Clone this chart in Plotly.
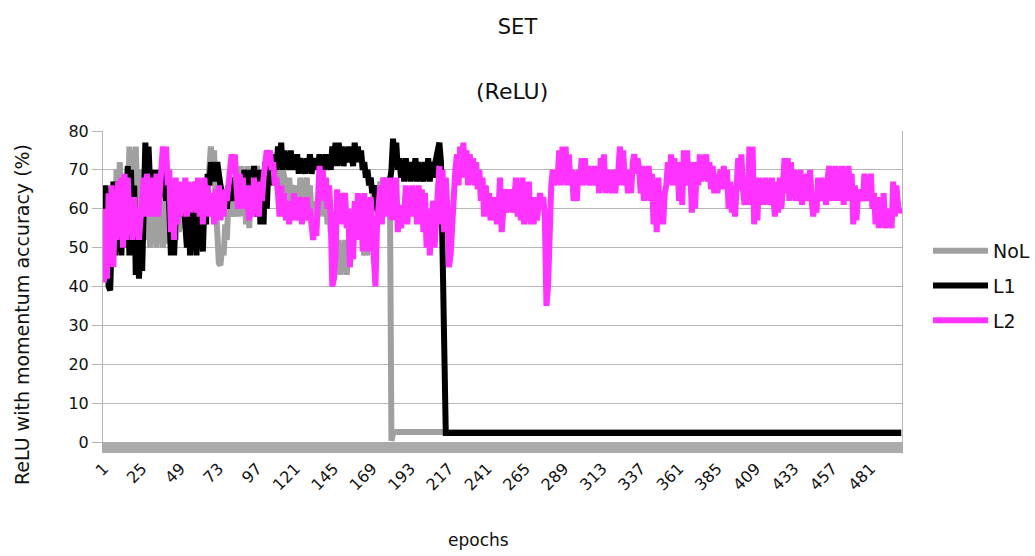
import plotly.graph_objects as go

# ---------------- data ----------------
tick_epochs = [1, 25, 49, 73, 97, 121, 145, 169, 193, 217, 241, 265, 289, 313,
               337, 361, 385, 409, 433, 457, 481]
tick_labels = [str(t) for t in tick_epochs]

# NoL: epochs 1..183 read per epoch, then flat tail
nol_noisy = [
    48, 60, 55, 52, 62, 50, 66, 55, 70, 58, 72, 60, 68, 55, 64, 56, 76, 60, 75, 58,
    76, 62, 70, 56, 66, 54, 62, 52, 60, 50, 62, 51, 64, 50, 60, 52, 63, 50, 62, 51,
    60, 52, 58, 50, 61, 52, 60, 54, 62, 55, 63, 58, 64, 56, 66, 60, 65, 58, 64, 60,
    63, 58, 62, 60, 64, 66, 70, 76, 72, 75, 62, 50, 46, 45.5, 50, 48, 56, 52, 62, 60,
    64, 58, 60, 62, 58, 66, 71, 58, 70, 56, 71, 55, 68, 58, 70, 62, 71, 64, 70, 66,
    68, 64, 70, 66, 72, 68, 70, 66, 72, 68, 70, 66, 70, 68, 66, 64, 68, 62, 66, 64,
    62, 66, 60, 68, 62, 67, 64, 68, 60, 66, 58, 62, 56, 60, 58, 64, 60, 66, 58, 62,
    56, 60, 54, 58, 50, 56, 46, 52, 43, 50, 44, 52, 43, 48, 45, 54, 50, 58, 52, 60,
    54, 58, 50, 48, 52, 48, 56, 60, 62, 64, 60, 66, 62, 67, 64, 68, 66, 68, 67, 68,
    0.3, 2.2, 2.6,
]
nol_tail_epochs = [500]
nol_tail_values = [2.6]

# L1: epochs 1..215 read per epoch, then flat tail
l1_noisy = [
    50, 66, 60, 40, 39, 55, 67, 48, 66, 49, 67, 48, 66, 50, 62, 71, 48, 70, 50, 66,
    43, 53, 42, 52, 44, 62, 77, 64, 76, 66, 70, 64, 70, 62, 70, 63, 69, 64, 70, 62,
    69, 60, 48, 56, 48, 58, 62, 60, 63, 58, 62, 56, 50, 60, 48, 62, 52, 60, 48, 62,
    50, 58, 49, 62, 56, 69, 66, 72, 68, 71, 67, 72, 68, 66, 64, 62, 65, 60, 66, 62,
    66, 64, 68, 62, 66, 64, 68, 65, 70, 66, 68, 64, 70, 66, 71, 64, 58, 70, 56, 66,
    56, 72, 60, 71, 66, 73, 68, 74, 70, 76, 72, 77, 70, 75, 71, 74, 70, 75, 70, 74,
    71, 74, 69, 73, 70, 72, 69, 73, 70, 74, 69, 72, 70, 73, 71, 74, 70, 73, 70, 74,
    71, 73, 70, 76, 72, 77, 71, 77, 72, 76, 71, 74, 72, 76, 73, 74, 71, 77, 72, 76,
    72, 75, 70, 72, 68, 70, 66, 68, 64, 66, 62, 60, 58, 62, 60, 64, 62, 66, 64, 68,
    70, 78, 72, 77, 70, 73, 68, 72, 67, 73, 68, 72, 67, 71, 68, 73, 67, 72, 68, 70,
    67, 72, 68, 73, 67, 72, 68, 71, 73, 76, 77, 72, 50, 22, 2.3,
]
l1_tail_epochs = [500]
l1_tail_values = [2.3]

# L2: epochs 1..500 read per epoch
l2_values = [
    41, 60, 42, 64, 50, 66, 45, 63, 52, 67, 55, 68, 50, 69, 52, 68, 57, 62, 52, 63,
    55, 60, 52, 58, 60, 68, 58, 69, 60, 68, 58, 67, 62, 69, 58, 67, 70, 76, 72, 76,
    66, 70, 54, 66, 52, 68, 56, 67, 58, 66, 60, 68, 58, 67, 59, 66, 60, 67, 59, 68,
    58, 67, 56, 68, 60, 66, 58, 62, 64, 56, 65, 58, 66, 57, 64, 58, 65, 62, 66, 72,
    74, 70, 74, 66, 60, 69, 62, 68, 60, 66, 62, 57, 66, 58, 68, 60, 64, 58, 67, 62,
    68, 72, 75, 73, 75, 70, 72, 66, 68, 64, 58, 66, 60, 64, 57, 62, 56, 60, 58, 64,
    57, 62, 58, 63, 56, 62, 57, 63, 58, 60, 54, 52, 56, 53, 62, 71, 64, 70, 62, 68,
    60, 66, 58, 40, 42, 48, 65, 57, 64, 56, 62, 64, 55, 60, 45, 58, 47, 62, 52, 64,
    54, 63, 49, 64, 52, 62, 49, 63, 55, 42, 40, 56, 60, 66, 56, 68, 58, 67, 60, 68,
    57, 66, 60, 68, 54, 61, 55, 60, 58, 66, 56, 65, 58, 66, 60, 64, 56, 66, 58, 65,
    54, 64, 50, 60, 48, 56, 62, 50, 60, 64, 71, 56, 70, 54, 68, 60, 45, 48, 58, 66,
    70, 74, 66, 76, 70, 77, 68, 75, 66, 74, 68, 73, 66, 72, 65, 70, 62, 68, 58, 66,
    60, 64, 57, 62, 58, 63, 56, 60, 68, 54, 62, 65, 59, 64, 60, 65, 59, 64, 68, 58,
    66, 57, 68, 56, 64, 58, 67, 56, 62, 56, 63, 57, 60, 64, 61, 63, 58, 35, 40, 64,
    66, 70, 66, 70, 68, 75, 66, 76, 68, 76, 66, 74, 67, 70, 62, 68, 62, 70, 66, 73,
    66, 73, 67, 71, 66, 70, 67, 71, 66, 70, 64, 73, 66, 74, 64, 70, 66, 69, 64, 70,
    64, 68, 70, 76, 66, 75, 68, 70, 64, 69, 64, 72, 74, 69, 73, 70, 64, 71, 62, 70,
    64, 71, 62, 69, 56, 64, 54, 68, 58, 62, 56, 64, 66, 72, 67, 74, 66, 73, 68, 72,
    62, 68, 61, 75, 68, 75, 66, 70, 59, 72, 60, 70, 66, 74, 67, 73, 68, 74, 67, 72,
    65, 71, 64, 69, 64, 68, 70, 65, 71, 65, 70, 60, 67, 59, 66, 58, 68, 73, 65, 74,
    65, 61, 66, 61, 76, 66, 76, 56, 65, 57, 68, 62, 67, 61, 68, 62, 66, 61, 68, 62,
    58, 67, 59, 68, 60, 66, 73, 64, 73, 62, 72, 63, 70, 62, 69, 62, 70, 61, 68, 62,
    69, 62, 70, 62, 58, 64, 59, 68, 62, 68, 62, 67, 61, 68, 71, 62, 70, 62, 71, 62,
    70, 62, 71, 61, 70, 62, 71, 63, 69, 56, 66, 57, 64, 62, 65, 62, 69, 62, 68, 62,
    69, 60, 64, 56, 63, 55, 62, 56, 64, 55, 60, 56, 59, 55, 67, 58, 66, 61, 59, 60,
]

nol_x = list(range(1, len(nol_noisy) + 1)) + nol_tail_epochs
nol_y = nol_noisy + nol_tail_values
l1_x = list(range(1, len(l1_noisy) + 1)) + l1_tail_epochs
l1_y = l1_noisy + l1_tail_values
l2_x = list(range(1, len(l2_values) + 1))
l2_y = l2_values

# ---------------- figure ----------------
FONT = "DejaVu Sans"
LW = 6

fig = go.Figure()
fig.add_trace(go.Scatter(x=nol_x, y=nol_y, mode="lines", name="NoL", legendgroup="a",
                         line=dict(color="#a0a0a0", width=LW)))
fig.add_trace(go.Scatter(x=l1_x, y=l1_y, mode="lines", name="L1", legendgroup="b",
                         line=dict(color="#000000", width=LW)))
fig.add_trace(go.Scatter(x=l2_x, y=l2_y, mode="lines", name="L2", legendgroup="c",
                         line=dict(color="#ff33ff", width=LW)))

fig.update_layout(
    width=1035, height=556,
    margin=dict(l=103, r=133, t=131, b=114, autoexpand=False),
    paper_bgcolor="white", plot_bgcolor="white",
    font=dict(family=FONT, color="#111111", size=14),
    title=dict(text="SET", x=0.5, xanchor="center", y=1 - 27 / 556, yanchor="middle",
               font=dict(family=FONT, size=21, color="#111111")),
    showlegend=True,
    legend=dict(x=(928 - 103) / 799, xanchor="left", y=(442 - 232) / 311, yanchor="top",
                font=dict(family=FONT, size=19, color="#111111"),
                itemwidth=55, tracegroupgap=7, traceorder="grouped",
                bgcolor="rgba(0,0,0,0)"),
    annotations=[
        dict(text="(ReLU)", xref="paper", yref="paper", x=(512 - 103) / 799,
             y=(442 - 92) / 311, xanchor="center", yanchor="middle", showarrow=False,
             font=dict(family=FONT, size=22, color="#111111")),
        dict(text="epochs", xref="paper", yref="paper", x=(478 - 103) / 799,
             y=(442 - 540) / 311, xanchor="center", yanchor="middle", showarrow=False,
             font=dict(family=FONT, size=17, color="#111111")),
        dict(text="ReLU with momentum accuracy (%)", xref="paper", yref="paper",
             x=(22 - 103) / 799, y=(442 - 315) / 311, xanchor="center",
             yanchor="middle", showarrow=False, textangle=-90,
             font=dict(family=FONT, size=19, color="#111111")),
    ],
)

fig.update_xaxes(
    range=[0.5, 500.5], tickmode="array", tickvals=tick_epochs, ticktext=tick_labels,
    tickangle=-45, showgrid=False, zeroline=False, showline=True, linewidth=11,
    linecolor="#ababab", ticks="", tickfont=dict(family=FONT, size=16, color="#111111"),
)
fig.update_yaxes(
    range=[0, 80], tickmode="array", tickvals=list(range(0, 81, 10)),
    showgrid=True, gridcolor="#b5b5b5", gridwidth=1, zeroline=False,
    showline=True, mirror=True, linecolor="#b5b5b5", linewidth=1,
    ticks="outside", ticklen=10, tickcolor="#b5b5b5",
    tickfont=dict(family=FONT, size=16, color="#111111"),
)

fig.write_html("out.html")
